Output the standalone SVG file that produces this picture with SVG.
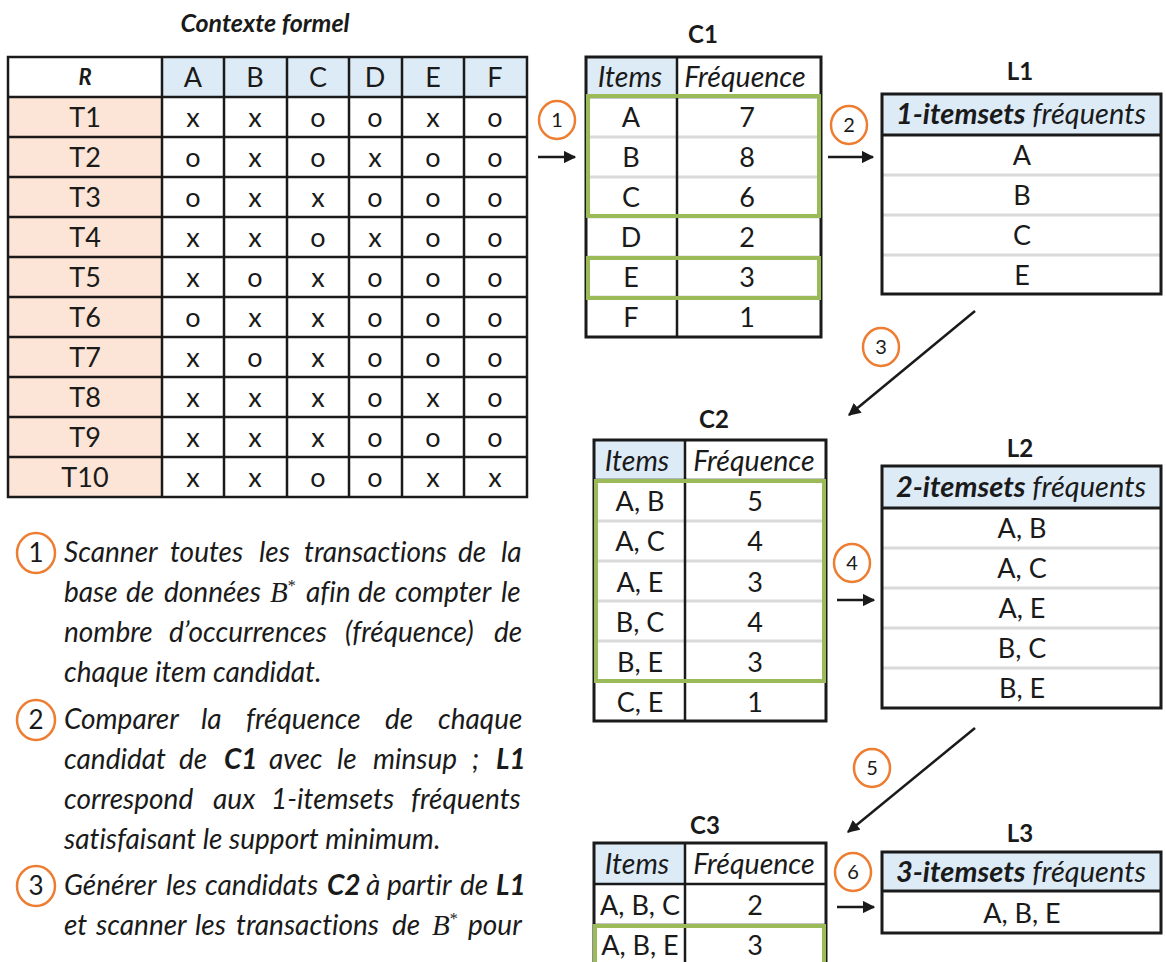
<svg xmlns="http://www.w3.org/2000/svg" width="1166" height="962" viewBox="0 0 1166 962">
<style>
text{font-family:Lato,"Liberation Sans",sans-serif;fill:#1a1a1a;font-variant-ligatures:none}
.c{text-anchor:middle;font-size:27px}
.i{font-style:italic}
.b{font-weight:bold}
.ttl{text-anchor:middle;font-size:24px;font-weight:bold}
.g{stroke:#1a1a1a;stroke-width:2.5;fill:none}
.gb{stroke:#1a1a1a;stroke-width:3;fill:none}
.sep{stroke:#d9d9d9;stroke-width:3}
.grn{stroke:#9bbb59;stroke-width:4;fill:none}
.circ{fill:#fff;stroke:#ed7d31;stroke-width:2.5}
.num{text-anchor:middle;font-size:20px}
.numL{text-anchor:middle;font-size:26px}
.blue{fill:#ddebf7}
.peach{fill:#fce4d6}
.d{font-size:28px;font-style:italic}
.m{font-family:"Liberation Serif",serif;font-style:italic}
.hd{font-size:28.5px}
.lh{font-size:29px}
.conn{stroke:#1a1a1a;stroke-width:2.5;fill:none}
</style>
<defs>
<marker id="ah" viewBox="0 0 10 10" refX="9" refY="5" markerWidth="5" markerHeight="5" markerUnits="strokeWidth" orient="auto">
<path d="M0,0 L10,5 L0,10 z" fill="#1a1a1a"/>
</marker>
</defs>

<g id="contexte">
<text class="ttl i" x="265" y="32" style="font-size:25px">Contexte formel</text>
<rect class="blue" x="162" y="57" width="365" height="40"/>
<rect class="peach" x="8" y="97" width="154" height="400"/>
<g class="g">
<rect x="8" y="57" width="519" height="440"/>
<path d="M162,57V497M224,57V497M287,57V497M349,57V497M402,57V497M464,57V497"/>
<path d="M8,97H527M8,137H527M8,177H527M8,217H527M8,257H527M8,297H527M8,337H527M8,377H527M8,417H527M8,457H527"/>
</g>
<text class="c i b" x="85" y="85" style="font-size:22px">R</text>
<g class="c">
<text x="193" y="87">A</text><text x="255" y="87">B</text><text x="318" y="87">C</text><text x="375" y="87">D</text><text x="433" y="87">E</text><text x="495" y="87">F</text>
<text x="85" y="127">T1</text><text x="85" y="167">T2</text><text x="85" y="207">T3</text><text x="85" y="247">T4</text><text x="85" y="287">T5</text><text x="85" y="327">T6</text><text x="85" y="367">T7</text><text x="85" y="407">T8</text><text x="85" y="447">T9</text><text x="85" y="487">T10</text>
</g>
<g class="c">
<text y="127"><tspan x="193">x</tspan><tspan x="255">x</tspan><tspan x="318">o</tspan><tspan x="375">o</tspan><tspan x="433">x</tspan><tspan x="495">o</tspan></text>
<text y="167"><tspan x="193">o</tspan><tspan x="255">x</tspan><tspan x="318">o</tspan><tspan x="375">x</tspan><tspan x="433">o</tspan><tspan x="495">o</tspan></text>
<text y="207"><tspan x="193">o</tspan><tspan x="255">x</tspan><tspan x="318">x</tspan><tspan x="375">o</tspan><tspan x="433">o</tspan><tspan x="495">o</tspan></text>
<text y="247"><tspan x="193">x</tspan><tspan x="255">x</tspan><tspan x="318">o</tspan><tspan x="375">x</tspan><tspan x="433">o</tspan><tspan x="495">o</tspan></text>
<text y="287"><tspan x="193">x</tspan><tspan x="255">o</tspan><tspan x="318">x</tspan><tspan x="375">o</tspan><tspan x="433">o</tspan><tspan x="495">o</tspan></text>
<text y="327"><tspan x="193">o</tspan><tspan x="255">x</tspan><tspan x="318">x</tspan><tspan x="375">o</tspan><tspan x="433">o</tspan><tspan x="495">o</tspan></text>
<text y="367"><tspan x="193">x</tspan><tspan x="255">o</tspan><tspan x="318">x</tspan><tspan x="375">o</tspan><tspan x="433">o</tspan><tspan x="495">o</tspan></text>
<text y="407"><tspan x="193">x</tspan><tspan x="255">x</tspan><tspan x="318">x</tspan><tspan x="375">o</tspan><tspan x="433">x</tspan><tspan x="495">o</tspan></text>
<text y="447"><tspan x="193">x</tspan><tspan x="255">x</tspan><tspan x="318">x</tspan><tspan x="375">o</tspan><tspan x="433">o</tspan><tspan x="495">o</tspan></text>
<text y="487"><tspan x="193">x</tspan><tspan x="255">x</tspan><tspan x="318">o</tspan><tspan x="375">o</tspan><tspan x="433">x</tspan><tspan x="495">x</tspan></text>
</g>
</g>

<g id="C1">
<text class="ttl" x="703" y="43">C1</text>
<rect class="blue" x="586" y="57" width="91" height="40"/>
<path class="sep" d="M586,137H821M586,177H821M586,217H821M586,257H821M586,297H821"/>
<rect class="gb" x="586" y="57" width="235" height="280"/>
<path class="g" d="M677,57V337M586,97H821"/>
<text class="c i hd" x="630" y="87">Items</text>
<text class="c i hd" x="745" y="87">Fréquence</text>
<g class="c">
<text x="631" y="127">A</text><text x="747" y="127">7</text>
<text x="631" y="167">B</text><text x="747" y="167">8</text>
<text x="631" y="207">C</text><text x="747" y="207">6</text>
<text x="631" y="247">D</text><text x="747" y="247">2</text>
<text x="631" y="287">E</text><text x="747" y="287">3</text>
<text x="631" y="327">F</text><text x="747" y="327">1</text>
</g>
<rect class="grn" x="588" y="96" width="231" height="120"/>
<rect class="grn" x="588" y="258" width="231" height="40"/>
</g>

<g id="L1">
<text class="ttl" x="1020" y="80">L1</text>
<rect class="blue" x="882" y="94" width="279" height="41"/>
<path class="sep" d="M882,175H1161M882,215H1161M882,255H1161"/>
<rect class="gb" x="882" y="94" width="279" height="200"/>
<path class="gb" d="M882,135H1161"/>
<text class="c i lh" x="1021" y="124"><tspan class="b">1-itemsets</tspan> fréquents</text>
<g class="c">
<text x="1022" y="165">A</text><text x="1022" y="205">B</text><text x="1022" y="245">C</text><text x="1022" y="285">E</text>
</g>
</g>

<g id="C2">
<text class="ttl" x="714" y="428">C2</text>
<rect class="blue" x="594" y="440" width="91" height="40"/>
<path class="sep" d="M594,521H826M594,561H826M594,601H826M594,641H826M594,681H826"/>
<rect class="gb" x="594" y="440" width="232" height="281"/>
<path class="g" d="M685,440V721M594,480H826"/>
<text class="c i hd" x="637" y="471">Items</text>
<text class="c i hd" x="754" y="471">Fréquence</text>
<g class="c">
<text x="640" y="511">A, B</text><text x="755" y="511">5</text>
<text x="640" y="551">A, C</text><text x="755" y="551">4</text>
<text x="640" y="592">A, E</text><text x="755" y="592">3</text>
<text x="640" y="632">B, C</text><text x="755" y="632">4</text>
<text x="640" y="672">B, E</text><text x="755" y="672">3</text>
<text x="640" y="712">C, E</text><text x="755" y="712">1</text>
</g>
<rect class="grn" x="596" y="481" width="228" height="200"/>
</g>

<g id="L2">
<text class="ttl" x="1020" y="457">L2</text>
<rect class="blue" x="882" y="466" width="279" height="42"/>
<path class="sep" d="M882,548H1161M882,588H1161M882,628H1161M882,668H1161"/>
<rect class="gb" x="882" y="466" width="279" height="242"/>
<path class="gb" d="M882,508H1161"/>
<text class="c i lh" x="1021" y="497"><tspan class="b">2-itemsets</tspan> fréquents</text>
<g class="c">
<text x="1022" y="538">A, B</text><text x="1022" y="578">A, C</text><text x="1022" y="618">A, E</text><text x="1022" y="658">B, C</text><text x="1022" y="698">B, E</text>
</g>
</g>

<g id="C3">
<text class="ttl" x="705" y="834">C3</text>
<rect class="blue" x="594" y="843" width="91" height="41"/>
<rect class="gb" x="594" y="843" width="232" height="125"/>
<path class="g" d="M685,843V968M594,884H826M594,925H826"/>
<text class="c i hd" x="637" y="874">Items</text>
<text class="c i hd" x="754" y="874">Fréquence</text>
<g class="c">
<text x="640" y="915">A, B, C</text><text x="755" y="915">2</text>
<text x="640" y="955">A, B, E</text><text x="755" y="955">3</text>
</g>
<rect class="grn" x="595" y="926" width="229" height="42"/>
</g>

<g id="L3">
<text class="ttl" x="1020" y="842">L3</text>
<rect class="blue" x="882" y="852" width="279" height="39"/>
<rect class="gb" x="882" y="852" width="279" height="81"/>
<path class="gb" d="M882,891H1161"/>
<text class="c i lh" x="1021" y="882"><tspan class="b">3-itemsets</tspan> fréquents</text>
<text class="c" x="1022" y="923">A, B, E</text>
</g>

<g id="connectors">
<line class="conn" x1="538" y1="157" x2="575" y2="157" marker-end="url(#ah)"/>
<line class="conn" x1="828" y1="157" x2="873" y2="157" marker-end="url(#ah)"/>
<line class="conn" x1="975" y1="311" x2="849" y2="415" marker-end="url(#ah)"/>
<line class="conn" x1="837" y1="600" x2="874" y2="600" marker-end="url(#ah)"/>
<line class="conn" x1="975" y1="728" x2="848" y2="832" marker-end="url(#ah)"/>
<line class="conn" x1="837" y1="907" x2="874" y2="907" marker-end="url(#ah)"/>
</g>

<g id="steps">
<ellipse class="circ" cx="557" cy="120" rx="18" ry="19"/><text class="num" x="557" y="127">1</text>
<ellipse class="circ" cx="849" cy="125" rx="18" ry="19"/><text class="num" x="849" y="132">2</text>
<ellipse class="circ" cx="881" cy="347" rx="18" ry="19"/><text class="num" x="881" y="354">3</text>
<ellipse class="circ" cx="852" cy="563" rx="18" ry="19"/><text class="num" x="852" y="570">4</text>
<ellipse class="circ" cx="872" cy="768" rx="18" ry="19"/><text class="num" x="872" y="775">5</text>
<ellipse class="circ" cx="853" cy="872" rx="18" ry="19"/><text class="num" x="853" y="879">6</text>
</g>

<g id="description">
<ellipse class="circ" cx="36" cy="553" rx="19" ry="20"/><text class="numL" x="36" y="562">1</text>
<ellipse class="circ" cx="36" cy="720" rx="19" ry="20"/><text class="numL" x="36" y="729">2</text>
<ellipse class="circ" cx="36" cy="886" rx="19" ry="20"/><text class="numL" x="36" y="895">3</text>
<text class="d" y="562"><tspan x="64">Scanner</tspan><tspan x="170">toutes</tspan><tspan x="259">les</tspan><tspan x="304">transactions</tspan><tspan x="458">de</tspan><tspan x="501">la</tspan></text>
<text class="d" y="602"><tspan x="64">base</tspan><tspan x="126">de</tspan><tspan x="164">données</tspan><tspan x="270" class="m" style="font-size:29px">B</tspan><tspan class="m" dy="-11" style="font-size:16px;font-style:normal">*</tspan><tspan x="306" dy="11">afin</tspan><tspan x="358">de</tspan><tspan x="395">compter</tspan><tspan x="501">le</tspan></text>
<text class="d" y="642"><tspan x="64">nombre</tspan><tspan x="169">d’occurrences</tspan><tspan x="345">(fréquence)</tspan><tspan x="494">de</tspan></text>
<text class="d" x="64" y="682">chaque item candidat.</text>
<text class="d" y="729"><tspan x="64">Comparer</tspan><tspan x="201">la</tspan><tspan x="246">fréquence</tspan><tspan x="385">de</tspan><tspan x="438">chaque</tspan></text>
<text class="d" y="769"><tspan x="64">candidat</tspan><tspan x="179">de</tspan><tspan x="224" class="b">C1</tspan><tspan x="269">avec</tspan><tspan x="337">le</tspan><tspan x="373">minsup</tspan><tspan x="472">;</tspan><tspan x="496" class="b">L1</tspan></text>
<text class="d" y="809"><tspan x="64">correspond</tspan><tspan x="213">aux</tspan><tspan x="271">1-itemsets</tspan><tspan x="411">fréquents</tspan></text>
<text class="d" x="64" y="849">satisfaisant le support minimum.</text>
<text class="d" y="895"><tspan x="64">Générer</tspan><tspan x="166">les</tspan><tspan x="205">candidats</tspan><tspan x="327" class="b">C2</tspan><tspan x="366">à</tspan><tspan x="387">partir</tspan><tspan x="460">de</tspan><tspan x="496" class="b">L1</tspan></text>
<text class="d" y="935"><tspan x="64">et</tspan><tspan x="96">scanner</tspan><tspan x="195">les</tspan><tspan x="236">transactions</tspan><tspan x="392">de</tspan><tspan x="432" class="m" style="font-size:29px">B</tspan><tspan class="m" dy="-11" style="font-size:16px;font-style:normal">*</tspan><tspan x="468" dy="11">pour</tspan></text>
</g>
</svg>
